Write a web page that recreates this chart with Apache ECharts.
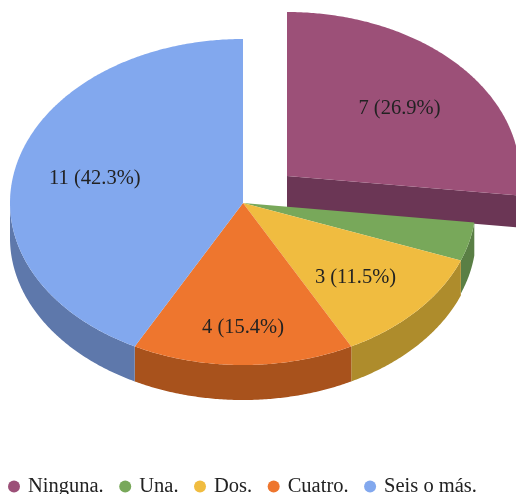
<!DOCTYPE html>
<html><head><meta charset="utf-8">
<style>html,body{margin:0;padding:0;background:#fff}#c{width:516px;height:494px}</style>
<script src="https://cdn.jsdelivr.net/npm/echarts@6/dist/echarts.min.js"></script>
</head><body><div id="c"></div>
<script>
const categories = ['Ninguna.', 'Una.', 'Dos.', 'Cuatro.', 'Seis o más.'];
const values = [7, 1, 3, 4, 11];
const showLabel = [true, false, true, true, true];
const topColors = ['#9c5078', '#78a85a', '#f0bc40', '#ee762e', '#82a8ee'];
const wallColors = ['#6b3655', '#5a7f45', '#ae8c2c', '#a8521c', '#5e78ab'];
const labelRadius = [0.645, 0.645, 0.645, 0.75, 0.655];
const labelNudge = [3, 0, 4, 2, 1];
const explode = [[44, -27], [0, 0], [0, 0], [0, 0], [0, 0]];
const depth = [32, 33, 35, 35, 35];

const CX = 243, CY = 203, RX = 233, RY_BACK = 164, RY_FRONT = 162;
const total = values.reduce((a, b) => a + b, 0);
const font = '20.5px "Liberation Serif"';

function pt(cx, cy, deg, dy) {
  const r = deg * Math.PI / 180, c = Math.cos(r);
  return [cx + RX * Math.sin(r), cy - (c >= 0 ? RY_BACK : RY_FRONT) * c + (dy || 0)];
}
function arc(cx, cy, a, b, dy) {
  const out = [];
  const n = Math.max(2, Math.ceil((b - a) * 2));
  for (let i = 0; i <= n; i++) out.push(pt(cx, cy, a + (b - a) * i / n, dy));
  return out;
}
function makeRender(idx) {
  return function (params, api) {
    const v = api.value(0);
    const before = values.slice(0, idx).reduce((a, b) => a + b, 0);
    const a0 = before / total * 360, a1 = a0 + v / total * 360;
    const cx = CX + explode[idx][0], cy = CY + explode[idx][1], d = depth[idx];
    const children = [];
    // outer rim wall, front half only
    const wa = Math.max(a0, 90), wb = Math.min(a1, 270);
    if (wb > wa) {
      const upper = arc(cx, cy, wa, wb, 0);
      const lower = arc(cx, cy, wa, wb, d).reverse();
      children.push({ type: 'polygon', shape: { points: upper.concat(lower) },
        style: { fill: wallColors[idx] } });
    }
    // cut face of the pulled-out slice
    if (explode[idx][0] !== 0) {
      const rim = pt(cx, cy, a1, 0);
      children.push({ type: 'polygon',
        shape: { points: [[cx, cy], rim, [rim[0], rim[1] + d], [cx, cy + d]] },
        style: { fill: wallColors[idx] } });
    }
    children.push({ type: 'polygon',
      shape: { points: [[cx, cy]].concat(arc(cx, cy, a0, a1, 0)) },
      style: { fill: topColors[idx] } });
    if (showLabel[idx]) {
      const mid = (a0 + a1) / 2 * Math.PI / 180, k = labelRadius[idx];
      children.push({ type: 'text', z2: 10, style: {
        x: cx + RX * k * Math.sin(mid), y: cy - RY_BACK * k * Math.cos(mid) + labelNudge[idx],
        text: v + ' (' + (v / total * 100).toFixed(1) + '%)',
        font: font, fill: '#222', align: 'center', verticalAlign: 'middle' } });
    }
    return { type: 'group', children };
  };
}
const chart = echarts.init(document.getElementById('c'), null, { renderer: 'canvas' });
chart.setOption({
  animation: false,
  backgroundColor: '#fff',
  legend: {
    data: categories, left: 8, top: 476, padding: 0, icon: 'circle',
    itemWidth: 12, itemHeight: 12, itemGap: 15.5,
    textStyle: { fontFamily: 'Liberation Serif', fontSize: 20.5, color: '#222', padding: [0, 0, 0, 3] }
  },
  series: categories.map((name, i) => ({
    type: 'custom', name, coordinateSystem: 'none', z: i,
    itemStyle: { color: topColors[i] },
    renderItem: makeRender(i), data: [[values[i]]]
  }))
});
</script></body></html>
